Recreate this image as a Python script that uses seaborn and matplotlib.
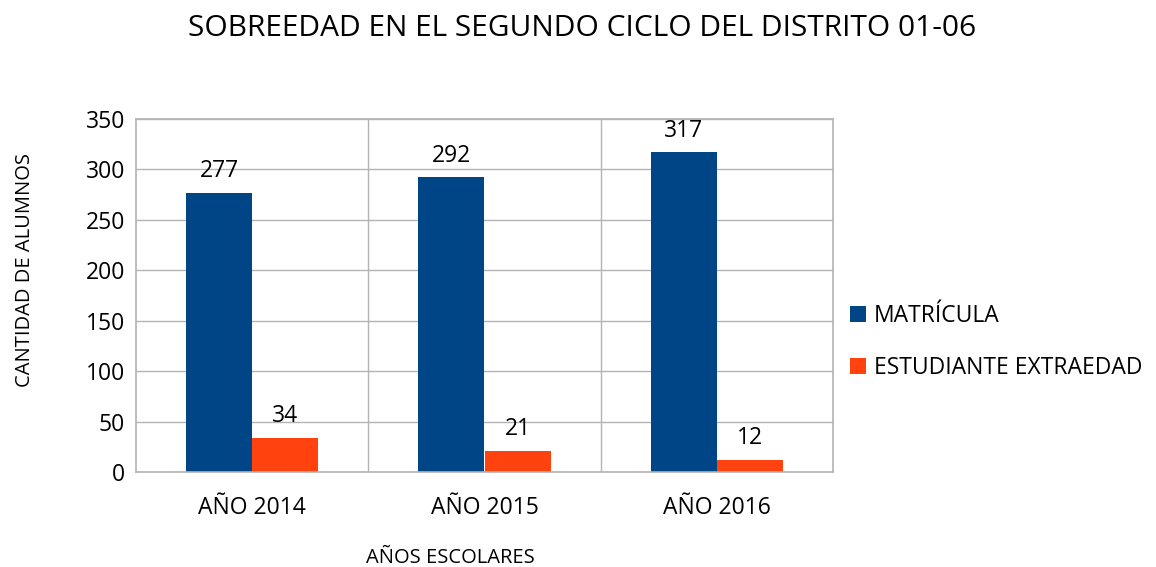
import matplotlib
matplotlib.use("Agg")
import matplotlib.pyplot as plt
import seaborn as sns
import pandas as pd

categories = ["AÑO 2014", "AÑO 2015", "AÑO 2016"]
series_names = ["MATRÍCULA", "ESTUDIANTE EXTRAEDAD"]
matricula = [277, 292, 317]
extraedad = [34, 21, 12]
yticks = [0, 50, 100, 150, 200, 250, 300, 350]

df = pd.DataFrame({
    "cat": categories * 2,
    "serie": [series_names[0]] * 3 + [series_names[1]] * 3,
    "val": matricula + extraedad,
})

sns.set_theme(style="white")
plt.rcParams['font.family'] = ['Open Sans', 'DejaVu Sans']
plt.rcParams['text.color'] = 'black'
plt.rcParams['axes.labelcolor'] = 'black'
plt.rcParams['xtick.color'] = 'black'
plt.rcParams['ytick.color'] = 'black'

fig = plt.figure(figsize=(11.56, 5.67), dpi=100)
ax = fig.add_axes([136/1156, 1-472/567, (833-136)/1156, (472-119)/567])

palette = {series_names[0]: "#004586", series_names[1]: "#ff420e"}
sns.barplot(data=df, x="cat", y="val", hue="serie", palette=palette,
            width=0.57, ax=ax, saturation=1, legend=True, linewidth=0)

ax.set_ylim(0, 350)
ax.set_xlim(-0.5, 2.5)
ax.set_yticks(yticks)
ax.set_yticklabels([str(t) for t in yticks], fontsize=16.5)
ax.tick_params(axis='x', labelsize=16.5, length=0, pad=17)
ax.tick_params(axis='y', length=0, pad=8)

ax.yaxis.grid(True, color="#b3b3b3", linewidth=1)
ax.set_axisbelow(True)
for xb in [0.5, 1.5]:
    ax.axvline(xb, color="#b3b3b3", linewidth=1, zorder=0)
for s in ax.spines.values():
    s.set_color("#b3b3b3")
    s.set_linewidth(1.2)

for cont in ax.containers:
    ax.bar_label(cont, fmt="%d", padding=7, fontsize=16.5, color="black")

ax.set_xlabel("AÑOS ESCOLARES", fontsize=14.5)
ax.xaxis.set_label_coords((450-136)/(833-136), -(557-472)/(472-119) + 0.025)
ax.set_ylabel("CANTIDAD DE ALUMNOS", fontsize=14.5)
ax.yaxis.set_label_coords(-(136-22)/(833-136) + 0.018, 0.572)

leg = ax.legend(loc="center left", bbox_to_anchor=(829/1156, 1-342/567),
                bbox_transform=fig.transFigure, frameon=False, fontsize=16.5,
                handlelength=0.7, handleheight=0.7, handletextpad=0.35,
                labelspacing=1.25)
for t in leg.get_texts():
    t.set_color("black")

fig.text(582/1156, 1-28/567, "SOBREEDAD EN EL SEGUNDO CICLO DEL DISTRITO 01-06",
         ha="center", va="center", fontsize=21.5, color="black")

fig.savefig("out.png", dpi=100, facecolor="white")
